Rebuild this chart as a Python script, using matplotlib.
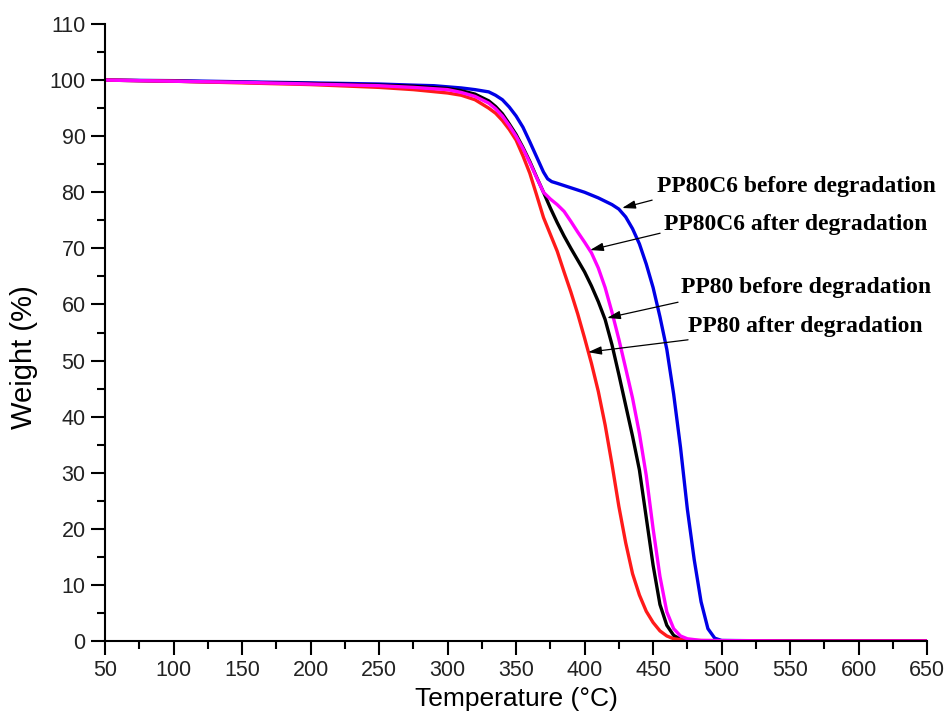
import matplotlib.pyplot as plt
from matplotlib.ticker import MultipleLocator

# TGA curves (temperature in C, weight in %)
t_c6_before = [50, 100, 150, 200, 250, 275, 290, 300, 310, 320, 330, 335, 340, 345, 350, 355, 360, 365, 370,
               373, 376, 380, 385, 390, 395, 400, 405, 410, 415, 420, 425, 430, 435, 440, 445, 450, 455,
               460, 465, 470, 475, 480, 485, 490, 495, 500, 550, 650]
w_c6_before = [100, 99.9, 99.7, 99.5, 99.3, 99.1, 99.0, 98.8, 98.6, 98.3, 97.9, 97.3, 96.5, 95.2, 93.6, 91.6,
               89.0, 86.3, 83.6, 82.4, 81.9, 81.6, 81.2, 80.8, 80.4, 80.0, 79.5, 79.0, 78.4, 77.8, 77.0, 75.6,
               73.5, 70.8, 67.2, 63.0, 57.8, 52.0, 44.0, 34.5, 23.5, 14.5, 7.0, 2.2, 0.5, 0.1, 0.0, 0.0]

t_pp80_before = [50, 100, 150, 200, 250, 275, 300, 310, 320, 330, 335, 340, 345, 350, 355, 360, 365, 370,
                 375, 380, 385, 390, 395, 400, 405, 410, 415, 420, 425, 430, 435, 440, 445, 450, 455, 460,
                 465, 470, 480, 550, 650]
w_pp80_before = [100, 99.8, 99.6, 99.4, 99.1, 98.9, 98.5, 98.1, 97.5, 96.3, 95.3, 94.0, 92.2, 90.3, 88.0, 85.5,
                 82.7, 80.0, 77.2, 74.6, 72.2, 70.0, 67.9, 65.8, 63.3, 60.5, 57.3, 52.8, 47.5, 42.0, 36.5, 30.5,
                 22.0, 13.5, 6.5, 2.8, 1.0, 0.3, 0.05, 0.0, 0.0]

t_c6_after = [50, 100, 150, 200, 250, 275, 300, 310, 320, 330, 335, 340, 345, 350, 355, 360, 365, 370, 375,
              380, 385, 390, 395, 400, 405, 410, 415, 420, 425, 430, 435, 440, 445, 450, 455, 460, 465, 470,
              475, 485, 550, 650]
w_c6_after = [100, 99.8, 99.6, 99.3, 99.0, 98.7, 98.3, 97.8, 97.1, 95.9, 94.9, 93.6, 91.9, 90.0, 87.8, 85.3,
              82.6, 80.0, 78.8, 77.8, 76.6, 74.8, 72.9, 71.1, 69.2, 66.5, 63.0, 58.6, 53.8, 48.6, 43.3, 37.0,
              29.5, 20.0, 11.5, 5.2, 2.2, 0.9, 0.4, 0.1, 0.0, 0.0]

t_pp80_after = [50, 100, 150, 200, 250, 275, 300, 310, 320, 330, 335, 340, 345, 350, 355, 360, 365, 370, 375,
                380, 385, 390, 395, 400, 405, 410, 415, 420, 425, 430, 435, 440, 445, 450, 455, 460, 465, 475,
                550, 650]
w_pp80_after = [100, 99.8, 99.5, 99.2, 98.7, 98.3, 97.7, 97.3, 96.5, 95.0, 94.1, 92.8, 91.2, 89.3, 86.5, 83.4,
                79.5, 75.5, 72.5, 69.5, 65.8, 62.2, 58.3, 54.0, 49.5, 44.5, 38.5, 31.5, 24.0, 17.5, 12.0, 8.2,
                5.3, 3.3, 1.8, 0.9, 0.4, 0.1, 0.0, 0.0]

plt.rcParams['font.family'] = 'Liberation Sans'

fig = plt.figure(figsize=(9.48, 7.23), dpi=100)
ax = fig.add_axes([0.1108, 0.1134, 0.8672, 0.8534])

ax.plot(t_c6_before, w_c6_before, color='#0000e6', lw=2.4)
ax.plot(t_pp80_before, w_pp80_before, color='black', lw=2.4)
ax.plot(t_pp80_after, w_pp80_after, color='#ff1a1a', lw=2.4)
ax.plot(t_c6_after, w_c6_after, color='#ff00ff', lw=2.4)

ax.set_xlim(50, 650)
ax.set_ylim(0, 110)
ax.xaxis.set_major_locator(MultipleLocator(50))
ax.xaxis.set_minor_locator(MultipleLocator(25))
ax.yaxis.set_major_locator(MultipleLocator(10))
ax.yaxis.set_minor_locator(MultipleLocator(5))
ax.spines['top'].set_visible(False)
ax.spines['right'].set_visible(False)
for s in ('left', 'bottom'):
    ax.spines[s].set_linewidth(1.5)
ax.tick_params(which='major', direction='out', length=10, width=1.5, labelsize=15.5, pad=4,
               labelcolor='#222222')
ax.tick_params(which='minor', direction='out', length=6, width=1.5)

ax.set_xlabel('Temperature (°C)', fontsize=19, labelpad=4)
ax.set_ylabel('Weight (%)', fontsize=21, labelpad=4)
ax.yaxis.set_label_coords(-0.081, 0.46)

# labels with arrows
labels = [
    ('PP80C6 before degradation', (452.5, 81.0), (449.3, 78.6), (427.4, 77.2)),
    ('PP80C6 after degradation', (458.3, 74.2), (455.1, 72.7), (404.0, 69.7)),
    ('PP80 before degradation', (470.0, 63.1), (468.2, 60.4), (416.4, 57.6)),
    ('PP80 after degradation', (475.8, 56.0), (475.5, 53.7), (402.6, 51.5)),
]
for txt, pos, tail, tip in labels:
    ax.text(pos[0], pos[1], txt, fontsize=17, fontweight='bold', family='Liberation Serif',
            ha='left', va='center')
    ax.annotate('', xy=tip, xytext=tail,
                arrowprops=dict(arrowstyle='-|>,head_length=0.8,head_width=0.25',
                                lw=0.9, color='black', shrinkA=0, shrinkB=0))

fig.savefig('out.png', dpi=100)
